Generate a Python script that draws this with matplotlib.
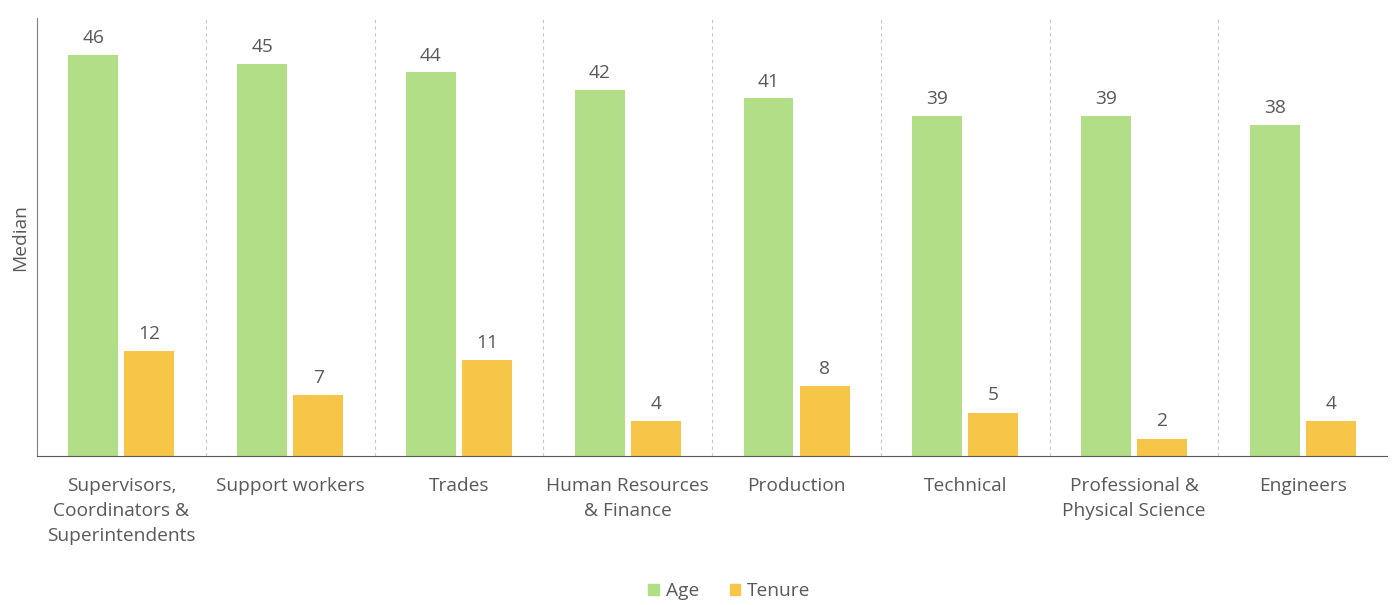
import numpy as np
import matplotlib.pyplot as plt
from matplotlib.patches import Patch

categories = ["Supervisors,\nCoordinators &\nSuperintendents", "Support workers", "Trades",
              "Human Resources\n& Finance", "Production", "Technical",
              "Professional &\nPhysical Science", "Engineers"]
age = [46, 45, 44, 42, 41, 39, 39, 38]
tenure = [12, 7, 11, 4, 8, 5, 2, 4]

green = "#B1DE86"
yellow = "#F7C648"
txt = "#595959"

plt.rcParams['font.family'] = ['Open Sans', 'DejaVu Sans']
fs = 13.8

fig = plt.figure(figsize=(13.97, 6.05), dpi=100)
ax = fig.add_axes([0.0265, 0.246, 0.9665, 0.724])

x = np.arange(len(categories))
w = 0.296
off = 0.166
ax.bar(x - off, age, w, color=green)
ax.bar(x + off, tenure, w, color=yellow)

for i in range(len(x)):
    ax.text(x[i] - off, age[i] + 1.9, str(age[i]), ha='center', va='center', fontsize=fs, color=txt)
    ax.text(x[i] + off, tenure[i] + 2.0, str(tenure[i]), ha='center', va='center', fontsize=fs, color=txt)

# dashed separators between groups
for s in np.arange(0.5, len(x), 1.0):
    ax.axvline(s, color="#C8C8C8", linestyle=(0, (3, 3)), linewidth=0.8)

ax.set_xlim(-0.5, len(x) - 0.5)
ax.set_ylim(0, 50.2)
ax.set_yticks([])
ax.set_xticks(x)
ax.set_xticklabels(categories, fontsize=fs, color=txt, linespacing=1.5)
ax.tick_params(axis='x', length=0, pad=15)
ax.set_ylabel("Median", fontsize=fs, color=txt, labelpad=6)

for side in ['top', 'right']:
    ax.spines[side].set_visible(False)
ax.spines['left'].set_color("#7F7F7F")
ax.spines['bottom'].set_color("#595959")

handles = [Patch(color=green, label="Age"), Patch(color=yellow, label="Tenure")]
fig.legend(handles=handles, loc='center', bbox_to_anchor=(0.522, 0.023), ncol=2, frameon=False,
           fontsize=fs, labelcolor=txt, handlelength=0.55, handleheight=0.55, handletextpad=0.35,
           columnspacing=1.6)

fig.savefig("out.png", dpi=100)
